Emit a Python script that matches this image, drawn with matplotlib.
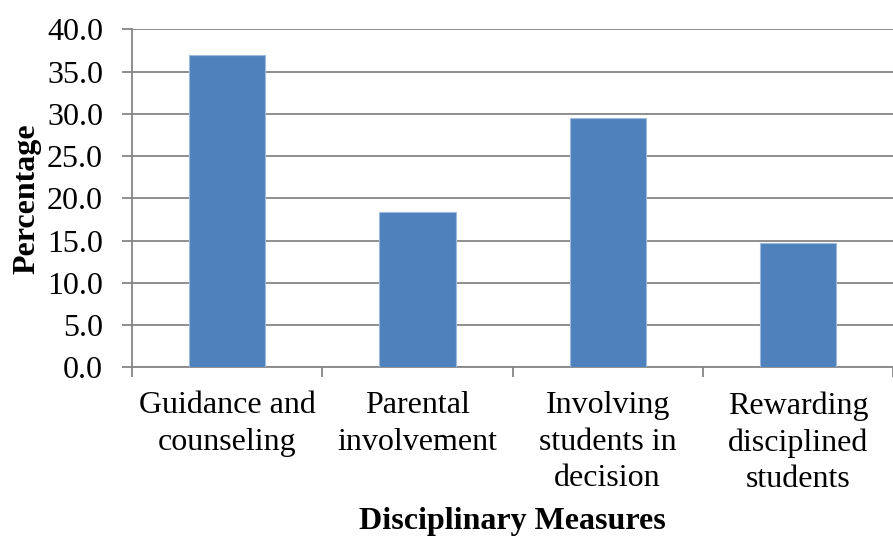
import numpy as np
import matplotlib
matplotlib.use("Agg")
import matplotlib.pyplot as plt

# data
categories = ["Guidance and\ncounseling", "Parental\ninvolvement",
              "Involving\nstudents in\ndecision", "Rewarding\ndisciplined\nstudents"]
values = [37.0, 18.4, 29.5, 14.7]
yticks = [0, 5, 10, 15, 20, 25, 30, 35, 40]

plt.rcParams['font.family'] = ['Liberation Serif', 'DejaVu Serif']
grey = '#868686'

fig = plt.figure(figsize=(8.93, 5.38), dpi=100)
ax = fig.add_axes([0.148, 0.317, 0.852, 0.6285])

x = np.arange(len(values))
ax.bar(x, values, width=0.4, color='#4F81BD', edgecolor='#9DB9DD', linewidth=0.8, zorder=3)

ax.set_ylim(0, 40)
ax.set_xlim(-0.5, 3.45)
ax.set_yticks(yticks)
ax.set_yticklabels([f"{v:.1f}" for v in yticks], fontsize=23)
ax.yaxis.grid(True, color=grey, linewidth=1.3, zorder=0)

# category boundaries as major ticks, labels on minor ticks
ax.set_xticks(np.arange(-0.5, 4, 1.0))
ax.set_xticklabels([])
ax.set_xticks(x, minor=True)
ax.set_xticklabels(categories, minor=True, fontsize=23, linespacing=1.34)
ax.tick_params(axis='x', which='minor', length=0, pad=17)
ax.tick_params(axis='x', which='major', length=7, width=1.3, color=grey)
ax.tick_params(axis='y', length=7, width=1.3, color=grey, pad=14)

for s in ['top', 'right']:
    ax.spines[s].set_visible(False)
for s in ['left', 'bottom']:
    ax.spines[s].set_color(grey)
    ax.spines[s].set_linewidth(1.3)

ax.set_ylabel("Percentage", fontsize=23, fontweight='bold', labelpad=4)
ax.set_xlabel("Disciplinary Measures", fontsize=23, fontweight='bold', labelpad=9)

fig.savefig("out.png", dpi=100)
